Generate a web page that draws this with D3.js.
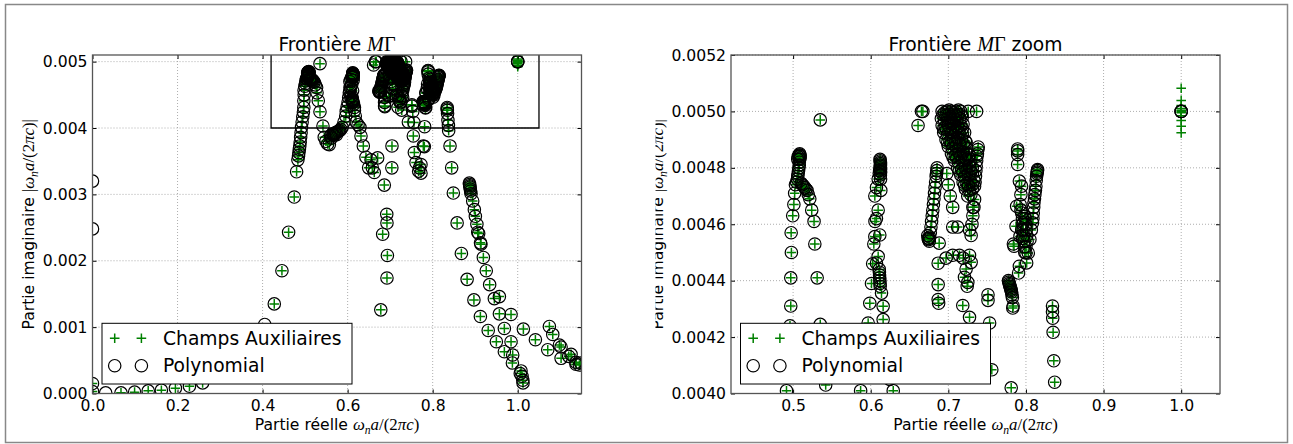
<!DOCTYPE html>
<meta charset="utf-8" />
<script src="https://d3js.org/d3.v7.min.js"></script>
<style>
  body { margin: 0; background: #fff; }
  text { font-family: "DejaVu Sans", sans-serif; }
</style>
<div id="fig"></div>
<script>
  // eigenmodes read off the figure: [real part, imaginary part]
  // points where both methods agree (circle + plus), Im < 0.004
  const modesLow = [
    [0.000,0.00015],[0.000,0.00003],[0.067,0.00001],[0.099,0.00002],[0.131,0.00004],[0.162,0.00005],[0.195,0.00008],[0.228,0.00011],[0.259,0.00016],
    [0.4275,0.00135],[0.4455,0.00185],[0.4612,0.00243],[0.4745,0.00296],[0.480,0.00334],[0.4830,0.00352],[0.4845,0.00358],[0.4855,0.00363],[0.4865,0.00368],[0.4875,0.00373],[0.4885,0.00379],[0.4895,0.00386],[0.4905,0.00393],
    [0.545,0.00386],[0.549,0.0038],[0.553,0.00376],[0.557,0.00375],
    [0.560,0.00388],[0.562,0.00385],[0.563,0.0039],[0.566,0.00391],[0.568,0.00389],[0.569,0.00392],[0.572,0.00393],[0.574,0.0039],[0.575,0.00394],[0.578,0.00395],[0.581,0.00396],[0.584,0.00398],
    [0.6314,0.00388],[0.6369,0.00373],[0.6431,0.00356],[0.6494,0.0034],[0.655,0.00352],[0.658,0.0034],[0.6627,0.00333],[0.6706,0.00355],
    [0.6863,0.00314],[0.6824,0.0024],[0.678,0.00126],[0.6925,0.00174],[0.6935,0.00208],[0.6925,0.00257],[0.692,0.0027],[0.7043,0.00373],[0.704,0.0034],
    [0.7545,0.00388],[0.7569,0.00363],[0.7608,0.00348],[0.767,0.00335],[0.769,0.0034],[0.7725,0.00345],[0.7725,0.00332],[0.778,0.00373],[0.7804,0.00372],
    [0.8376,0.00396],[0.8408,0.00373],[0.8447,0.0034],[0.8486,0.00302],[0.8575,0.00257],[0.8675,0.00211],[0.881,0.00172],[0.897,0.00141],[0.9122,0.00116],[0.9306,0.00095],[0.9498,0.00078],[0.9686,0.00063],[0.9875,0.00046],[1.006,0.0003],[1.0125,0.00016],
    [0.8863,0.00317],[0.8868,0.00315],[0.8873,0.00313],[0.8878,0.00311],[0.8885,0.00308],[0.8893,0.00305],[0.8902,0.00301],[0.8941,0.0029],[0.898,0.00277],[0.9004,0.00267],[0.904,0.00255],[0.906,0.00243],[0.9082,0.00241],[0.9125,0.00227],[0.9135,0.00225],[0.9192,0.00205],[0.926,0.00185],[0.934,0.00164],[0.945,0.00143],[0.9569,0.00146],[0.9569,0.0012],[0.9686,0.00098],[0.9843,0.00119],[0.9843,0.00078],[0.9882,0.00058],[1.0078,0.00034],[1.0102,0.00026],[1.012,0.0002],
    [1.0133,0.00097],[1.0416,0.00081],[1.0745,0.00101],[1.0824,0.00089],[1.098,0.00073],[1.102,0.0007],[1.1255,0.00059],[1.137,0.00047],[1.148,0.00046],[1.0706,0.00066],[1.102,0.00053],[1.12,0.00056],[1.137,0.00044],[1.145,0.00043]
  ];

  // Im >= 0.004 (the zoomed box), sparse tracks
  const modesHigh = [
    [0.4915,0.00401],[0.493,0.00409],[0.4945,0.00417],[0.496,0.00424],[0.497,0.00431],[0.497,0.00441],[0.4978,0.0045],[0.4975,0.00457],[0.4995,0.00463],[0.501,0.00467],[0.502,0.00471],[0.503,0.00474],
    [0.5215,0.00469],[0.524,0.00465],[0.527,0.00461],[0.528,0.00453],[0.531,0.00441],[0.535,0.004245],[0.542,0.00403],[0.535,0.00497],
    [0.587,0.00401],[0.5915,0.00409],[0.5955,0.00418],[0.5967,0.00425],[0.5988,0.00432],[0.601,0.00439],[0.6025,0.00446],[0.604,0.00453],[0.6053,0.004556],[0.6055,0.00461],[0.6074,0.00462],[0.6096,0.00465],[0.6053,0.0047],[0.6074,0.00473],[0.6096,0.00476],[0.611,0.00478],
    [0.6127,0.00476],[0.613,0.00472],[0.6117,0.004562],[0.6096,0.004486],[0.6074,0.004462],[0.6139,0.004356],[0.616,0.004309],[0.616,0.004262],[0.618,0.00418],[0.62,0.00409],[0.6245,0.00405],[0.629,0.00401],
    [0.661,0.00495],[0.6654,0.005],[0.6672,0.005],
    [0.6882,0.004533],[0.6869,0.004462],[0.6869,0.004386],[0.6869,0.004333],[0.6875,0.00432],
    [0.698,0.00478],[0.700,0.00474],[0.7025,0.0047],[0.7056,0.00466],[0.7056,0.00459],[0.712,0.00459],[0.7273,0.00458],[0.7316,0.00466],[0.7294,0.00456],[0.7056,0.00449],[0.7143,0.00449],[0.7191,0.00448],[0.7273,0.00449],[0.697,0.00448],[0.7294,0.004465],[0.7229,0.004441],[0.7208,0.004412],[0.7243,0.00438],[0.7251,0.004394],[0.7186,0.004312],[0.7273,0.00427],
    [0.7511,0.00435],[0.7511,0.00433],[0.7532,0.00425],[0.7428,0.00409],[0.756,0.004084],[0.7256,0.005],[0.7364,0.005],
    [0.7385,0.004874],[0.7381,0.004865],[0.7375,0.00485],[0.737,0.004841],[0.7365,0.004825],[0.7359,0.004806],[0.7355,0.00479],[0.735,0.00477],[0.7345,0.00475],[0.7338,0.004735],[0.7338,0.004688],[0.733,0.00466],[0.7316,0.00463],[0.7305,0.0046],
    [0.781,0.00402],
    [0.7893,0.004867],[0.7893,0.00486],[0.7893,0.004847],[0.7893,0.004812],[0.7915,0.004753],[0.7944,0.004735],[0.7935,0.004705],[0.7925,0.00467],[0.788,0.004664],[0.7872,0.004593],[0.7846,0.004522],[0.7923,0.004557],[0.7966,0.004605],[0.7987,0.004628],[0.8,0.004498],[0.7915,0.004451],[0.7905,0.004427],[0.7838,0.00453],
    [0.815,0.004794],[0.8148,0.00479],[0.8145,0.004785],[0.8142,0.00478],[0.8137,0.00477],[0.8132,0.004755],[0.8128,0.004735],[0.8122,0.00472],[0.8115,0.004705],[0.811,0.00469],[0.8103,0.004676],[0.81,0.00466],[0.8094,0.00464],[0.809,0.00462],[0.8085,0.004605],[0.807,0.00458],[0.8051,0.004546],[0.803,0.004498],[0.8009,0.004463],
    [0.783,0.004303],[0.7835,0.00431],
    [0.8342,0.00431],[0.8342,0.00429],[0.8345,0.004267],[0.835,0.004217],[0.8359,0.004116],[0.837,0.00404],
    [1.0,0.005]
  ];

  // dense clusters (both methods)
  const denseBlobs = [
    [0.5045,0.00475],[0.5055,0.00476],[0.506,0.00477],[0.5065,0.00478],[0.507,0.00479],[0.5075,0.0048],[0.508,0.00481],[0.508,0.00482],[0.5085,0.00483],[0.5088,0.004835],[0.509,0.00484],[0.509,0.004845],[0.5085,0.00485],[0.5075,0.004845],[0.5065,0.00484],[0.506,0.00483],
    [0.5105,0.004745],[0.512,0.00474],[0.5135,0.004735],[0.515,0.00473],[0.5165,0.004725],[0.518,0.00472],[0.5195,0.004705],
    [0.6115,0.00479],[0.612,0.0048],[0.6124,0.004805],[0.6126,0.00481],[0.6126,0.004815],[0.6125,0.00482],[0.6122,0.004825],[0.612,0.00483],[0.6127,0.004795],[0.6128,0.004785],[0.6125,0.004775],
    [0.611,0.00444],[0.6112,0.00443],[0.6114,0.00442],[0.6116,0.00441],[0.6118,0.0044],[0.612,0.00439],[0.6122,0.00438],
    [0.6855,0.0048],[0.6852,0.00479],[0.6848,0.00478],[0.6843,0.00477],[0.6836,0.00475],[0.6829,0.00473],[0.6822,0.00471],[0.6815,0.00469],[0.6808,0.00467],[0.68,0.00465],[0.6792,0.00463],[0.6784,0.00461],[0.6776,0.00459],[0.6768,0.00457],[0.676,0.004555],[0.675,0.00455],[0.674,0.00455],[0.6745,0.004545],[0.6755,0.00454],[0.6735,0.00456],
    [0.692,0.005],[0.695,0.004995],[0.698,0.005],[0.701,0.005005],[0.704,0.005],[0.707,0.004995],[0.710,0.005],[0.713,0.005005],[0.716,0.005],
    [0.693,0.004988],[0.697,0.004986],[0.701,0.00499],[0.705,0.004988],[0.709,0.004986],[0.713,0.00499],[0.717,0.004988],
    [0.691,0.004975],[0.695,0.00497],[0.699,0.004975],[0.703,0.00498],[0.707,0.004975],[0.711,0.00497],[0.715,0.004975],[0.718,0.00498],
    [0.692,0.00495],[0.696,0.004945],[0.700,0.00495],[0.704,0.004955],[0.708,0.00495],[0.712,0.004945],[0.716,0.00495],[0.719,0.004955],
    [0.694,0.004938],[0.698,0.004936],[0.702,0.00494],[0.706,0.004938],[0.710,0.004936],[0.714,0.00494],[0.718,0.004938],
    [0.694,0.004925],[0.699,0.00492],[0.704,0.004925],[0.709,0.00493],[0.714,0.004925],[0.718,0.00492],[0.721,0.004925],
    [0.697,0.0049],[0.702,0.004895],[0.707,0.0049],[0.712,0.004905],[0.717,0.0049],[0.722,0.004895],
    [0.699,0.004888],[0.704,0.004886],[0.709,0.00489],[0.714,0.004888],[0.719,0.004886],[0.723,0.00489],
    [0.700,0.004875],[0.705,0.00487],[0.710,0.004875],[0.715,0.00488],[0.720,0.004875],[0.724,0.00487],
    [0.704,0.00485],[0.709,0.004845],[0.714,0.00485],[0.719,0.004855],[0.724,0.00485],[0.727,0.004845],
    [0.706,0.004838],[0.711,0.004836],[0.716,0.00484],[0.721,0.004838],[0.726,0.004836],
    [0.708,0.004825],[0.713,0.00482],[0.718,0.004825],[0.723,0.00483],[0.728,0.004825],
    [0.712,0.0048],[0.717,0.004795],[0.722,0.0048],[0.727,0.004805],[0.731,0.0048],
    [0.714,0.004788],[0.719,0.004786],[0.724,0.00479],[0.729,0.004788],
    [0.716,0.004775],[0.721,0.00477],[0.726,0.004775],[0.731,0.00478],
    [0.719,0.00475],[0.724,0.004745],[0.729,0.00475],[0.733,0.004755],
    [0.721,0.004738],[0.726,0.004736],[0.731,0.00474],
    [0.722,0.004725],[0.727,0.00472],[0.731,0.004725],
    [0.725,0.0047],[0.729,0.004705],
    [0.7775,0.0044],[0.778,0.004395],[0.7785,0.00439],[0.779,0.004385],[0.7795,0.00438],[0.78,0.004375],[0.7805,0.00437],[0.781,0.004365],[0.7815,0.00436],[0.782,0.00435],[0.7825,0.00434],
    [0.7935,0.00465],[0.7945,0.00464],[0.7955,0.00462],[0.796,0.0046],[0.7965,0.00458],[0.797,0.00456],[0.7975,0.00454],[0.798,0.00452],[0.7985,0.0045],[0.799,0.00462],[0.8,0.0046],[0.8005,0.00458],[0.801,0.00456],[0.7945,0.00458],[0.7955,0.00455],[0.8015,0.00454],[0.8,0.00452]
  ];

  // only one of the two methods
  const polyOnly = [[0.0,0.0032],[0.0,0.00248],[0.031,0.00001],[0.405,0.00104],[1.0,0.005],[1.0,0.005]];
  const auxOnly = [[1.0,0.005082],[1.0,0.005039],[1.0,0.005021],[1.0,0.00501],[1.0,0.005004],[1.0,0.004995],[1.0,0.004985],[1.0,0.004968],[1.0,0.004947],[1.0,0.004924]];

  const shared = modesLow.concat(modesHigh, denseBlobs);
  const auxSeries = shared.concat(auxOnly);
  const polySeries = shared.concat(polyOnly);

  const GREEN = "#008000";
  const TICK_FS = 15.6, BIG_FS = 18.7;
  const SERIF = "'Liberation Serif', 'DejaVu Serif', serif";

  var svg = d3.select("#fig").append("svg").attr("width", 1293).attr("height", 444);

  // figure border
  svg.append("rect").attr("x", 5.5).attr("y", 4.5).attr("width", 1282).attr("height", 438)
    .attr("fill", "none").attr("stroke", "#888").attr("stroke-width", 1.5);

  // text with mathtext-like parts
  function rich(sel, parts, fs) {
    parts.forEach(function (p) {
      var t = sel.append("tspan").text(p.t);
      if (p.m) t.attr("font-family", SERIF).attr("font-size", fs * 1.08);
      if (p.i) t.attr("font-style", "italic");
      if (p.sub) t.attr("font-size", fs * 0.75).attr("dy", fs * 0.25);
      if (p.back) t.attr("dy", -fs * 0.25);
    });
    return sel;
  }

  const xLabelParts = [
    { t: "Partie réelle " }, { t: "ω", m: 1, i: 1 }, { t: "n", m: 1, i: 1, sub: 1 },
    { t: "a", m: 1, i: 1, back: 1 }, { t: "/(2", m: 1 }, { t: "π", m: 1, i: 1 }, { t: "c", m: 1, i: 1 }, { t: ")", m: 1 }
  ];
  const yLabelParts = [
    { t: "Partie imaginaire " }, { t: "|", m: 1 }, { t: "ω", m: 1, i: 1 }, { t: "n", m: 1, i: 1, sub: 1 },
    { t: "a", m: 1, i: 1, back: 1 }, { t: "/(2", m: 1 }, { t: "π", m: 1, i: 1 }, { t: "c", m: 1, i: 1 }, { t: ")|", m: 1 }
  ];

  function drawPanel(cfg) {
    var x = d3.scaleLinear().domain(cfg.xDomain).range([cfg.left, cfg.right]);
    var y = d3.scaleLinear().domain(cfg.yDomain).range([cfg.bottom, cfg.top]);
    var g = svg.append("g");

    g.append("clipPath").attr("id", cfg.id + "clip").append("rect")
      .attr("x", cfg.left).attr("y", cfg.top)
      .attr("width", cfg.right - cfg.left).attr("height", cfg.bottom - cfg.top);

    // dotted grid
    var grid = g.append("g").attr("stroke", "#999").attr("stroke-width", 0.8).attr("stroke-dasharray", "1,2");
    grid.selectAll(".gx").data(cfg.xTicks).join("line")
      .attr("x1", d => x(d)).attr("x2", d => x(d)).attr("y1", cfg.top).attr("y2", cfg.bottom);
    grid.selectAll(".gy").data(cfg.yTicks).join("line")
      .attr("y1", d => y(d)).attr("y2", d => y(d)).attr("x1", cfg.left).attr("x2", cfg.right);

    // markers
    var marks = g.append("g").attr("clip-path", "url(#" + cfg.id + "clip)");
    marks.append("g").selectAll("path").data(auxSeries).join("path")
      .attr("transform", d => "translate(" + x(d[0]) + "," + y(d[1]) + ")")
      .attr("d", "M-4.8,0H4.8M0,-4.8V4.8")
      .attr("stroke", GREEN).attr("stroke-width", 1.5).attr("fill", "none");
    marks.append("g").selectAll("circle").data(polySeries).join("circle")
      .attr("cx", d => x(d[0])).attr("cy", d => y(d[1])).attr("r", 6.2)
      .attr("fill", "none").attr("stroke", "#000").attr("stroke-width", 1.2);

    if (cfg.box) {
      var b = cfg.box;
      marks.append("path")
        .attr("d", "M" + x(b[0]) + "," + y(b[2]) + "H" + x(b[1]) + "V" + y(b[3]) + "H" + x(b[0]) + "Z")
        .attr("fill", "none").attr("stroke", "#000").attr("stroke-width", 1.3);
    }

    // axes, classic inward ticks
    function styleAxis(a) {
      a.select(".domain").remove();
      a.attr("font-size", TICK_FS).attr("font-family", "DejaVu Sans, sans-serif");
      a.selectAll("text").attr("fill", "#000");
      a.selectAll("line").attr("stroke", "#000");
    }
    g.append("g").attr("transform", "translate(0," + cfg.bottom + ")")
      .call(d3.axisBottom(x).tickValues(cfg.xTicks).tickFormat(d3.format(".1f"))
        .tickSizeInner(-4).tickSizeOuter(0).tickPadding(6)).call(styleAxis);
    g.append("g").attr("transform", "translate(0," + cfg.top + ")")
      .call(d3.axisTop(x).tickValues(cfg.xTicks).tickFormat("").tickSizeInner(-4).tickSizeOuter(0)).call(styleAxis);
    g.append("g").attr("transform", "translate(" + cfg.left + ",0)")
      .call(d3.axisLeft(y).tickValues(cfg.yTicks).tickFormat(d3.format(cfg.yFmt))
        .tickSizeInner(-4).tickSizeOuter(0).tickPadding(5)).call(styleAxis);
    g.append("g").attr("transform", "translate(" + cfg.right + ",0)")
      .call(d3.axisRight(y).tickValues(cfg.yTicks).tickFormat("").tickSizeInner(-4).tickSizeOuter(0)).call(styleAxis);

    g.append("rect").attr("x", cfg.left).attr("y", cfg.top)
      .attr("width", cfg.right - cfg.left).attr("height", cfg.bottom - cfg.top)
      .attr("fill", "none").attr("stroke", "#555").attr("stroke-width", 1.3);

    // title
    var cx = (cfg.left + cfg.right) / 2;
    rich(g.append("text").attr("x", cx).attr("y", 50.5).attr("text-anchor", "middle").attr("font-size", BIG_FS),
      [{ t: "Frontière " }, { t: "M", m: 1, i: 1 }, { t: "Γ", m: 1 }].concat(cfg.suffix ? [{ t: cfg.suffix }] : []), BIG_FS);

    // axis labels
    rich(g.append("text").attr("x", cx).attr("y", 430).attr("text-anchor", "middle").attr("font-size", TICK_FS),
      xLabelParts, TICK_FS);
    var yl = g.append("g");
    if (cfg.labelClip) {
      g.append("clipPath").attr("id", cfg.id + "lclip").append("rect")
        .attr("x", cfg.labelClip).attr("y", 0).attr("width", 200).attr("height", 444);
      yl.attr("clip-path", "url(#" + cfg.id + "lclip)");
    }
    rich(yl.append("text").attr("transform", "translate(" + cfg.yLabelX + "," + (cfg.top + cfg.bottom) / 2 + ") rotate(-90)")
      .attr("text-anchor", "middle").attr("font-size", TICK_FS), yLabelParts, TICK_FS);

    // legend
    var lx = cfg.left + 9.5, ly = 323.3;
    var lg = g.append("g");
    lg.append("rect").attr("x", lx).attr("y", ly).attr("width", 250).attr("height", 60.7)
      .attr("fill", "#fff").attr("stroke", "#000").attr("stroke-width", 1);
    [12.7, 39.4].forEach(function (dx) {
      lg.append("path").attr("transform", "translate(" + (lx + dx) + "," + (ly + 15) + ")")
        .attr("d", "M-4.8,0H4.8M0,-4.8V4.8").attr("stroke", GREEN).attr("stroke-width", 1.5);
      lg.append("circle").attr("cx", lx + dx).attr("cy", ly + 42.4).attr("r", 6.2)
        .attr("fill", "none").attr("stroke", "#000").attr("stroke-width", 1.2);
    });
    lg.append("text").attr("x", lx + 61).attr("y", ly + 15).attr("dy", "0.36em").attr("font-size", BIG_FS)
      .text("Champs Auxiliaires");
    lg.append("text").attr("x", lx + 61).attr("y", ly + 42.4).attr("dy", "0.36em").attr("font-size", BIG_FS)
      .text("Polynomial");
  }

  drawPanel({
    id: "p1", left: 92.5, right: 581.5, top: 55, bottom: 393.5,
    xDomain: [0, 1.15], yDomain: [0, 0.0051],
    xTicks: [0, 0.2, 0.4, 0.6, 0.8, 1.0],
    yTicks: [0, 0.001, 0.002, 0.003, 0.004, 0.005], yFmt: ".3f",
    box: [0.42, 1.05, 0.004, 0.0052], yLabelX: 34
  });
  drawPanel({
    id: "p2", left: 731, right: 1220, top: 55, bottom: 393.5,
    xDomain: [0.42, 1.05], yDomain: [0.004, 0.0052],
    xTicks: [0.5, 0.6, 0.7, 0.8, 0.9, 1.0],
    yTicks: [0.004, 0.0042, 0.0044, 0.0046, 0.0048, 0.005, 0.0052], yFmt: ".4f",
    suffix: " zoom", yLabelX: 663, labelClip: 655.5
  });
</script>
